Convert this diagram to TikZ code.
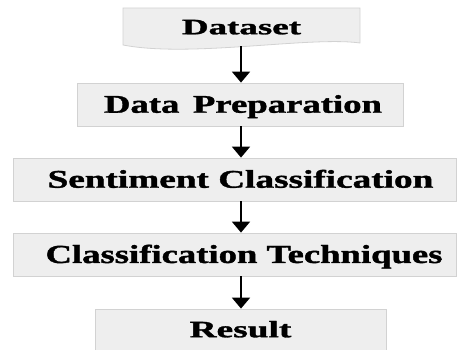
\documentclass[tikz,border=0pt]{standalone}
\usepackage{fontspec}
\setmainfont{Liberation Serif}
\newfontfamily\heavyfont{Liberation Serif Bold}[FakeBold=1.2]
\usepackage{graphicx}
\usetikzlibrary{arrows.meta}
\definecolor{boxfill}{HTML}{EEEEEE}
\definecolor{boxline}{HTML}{D2D2D2}
% heavy label at a given size, widened horizontally
\newcommand{\boxtxt}[3]{\fontsize{#1}{#1}\heavyfont\scalebox{#2}[1]{#3}}
\begin{document}
\begin{tikzpicture}[x=1pt,y=-1pt,
  stage/.style={draw=boxline, fill=boxfill, line width=0.8pt, inner sep=0pt,
                text depth=0pt, anchor=center},
  flow/.style={line width=2pt, -{Triangle[width=18pt,length=11pt]}}]
\useasboundingbox (0,0) rectangle (459,350);

% document-shaped input box with a wavy lower edge
\filldraw[fill=boxfill, draw=boxline, line width=0.8pt]
  (123,8) -- (360,8) -- (360,43)
  .. controls (310,36) and (190,58) .. (123,45) -- cycle;
\node[inner sep=0pt, minimum width=237pt, minimum height=38pt,
      text height=14.5pt, text depth=0pt] (ds) at (241.5,27)
  {\boxtxt{22}{1.68}{Dataset}};

\node[stage, minimum width=326pt, minimum height=43pt, text height=16.5pt]
  (dp) at (240,104.5) {\hspace*{6pt}\boxtxt{25.5}{1.44}{Data\hspace{3pt} Preparation}};
\node[stage, minimum width=443pt, minimum height=43pt, text height=16.5pt]
  (sc) at (234.5,179.5) {\hspace*{12pt}\boxtxt{25.5}{1.46}{Sentiment Classification}};
\node[stage, minimum width=443pt, minimum height=43pt, text height=17pt]
  (ct) at (234.5,254.5) {\hspace*{19pt}\boxtxt{26}{1.41}{Classification Techniques}};
\node[stage, minimum width=291pt, minimum height=41pt, text height=15.5pt]
  (res) at (240.5,329.5) {\boxtxt{23.5}{1.59}{Result}};

% arrows run down a common vertical axis
\coordinate (axis) at (241,0);
\draw[flow] (axis |- ds.south) -- (axis |- dp.north);
\draw[flow] (axis |- dp.south) -- (axis |- sc.north);
\draw[flow] (axis |- sc.south) -- (axis |- ct.north);
\draw[flow] (axis |- ct.south) -- (axis |- res.north);
\end{tikzpicture}
\end{document}
